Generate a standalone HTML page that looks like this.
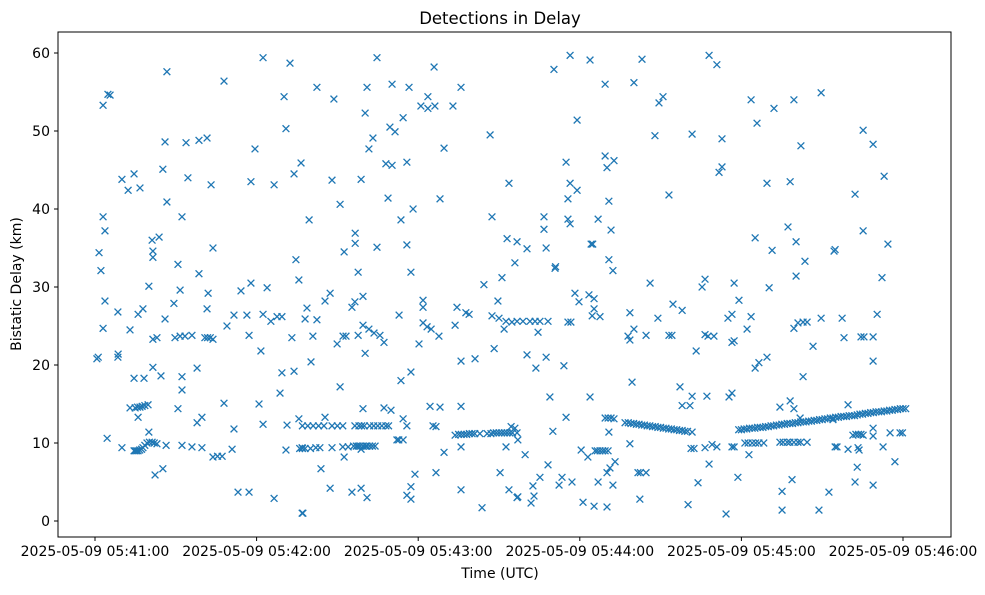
<!DOCTYPE html>
<html><head><meta charset="utf-8"><style>
body{margin:0;background:#fff;}
svg text{font-family:"DejaVu Sans","Liberation Sans",sans-serif;fill:#000;}
</style></head><body>
<svg id="chart" width="985" height="590" xmlns="http://www.w3.org/2000/svg">
<rect width="985" height="590" fill="#fff"/>
<text x="500" y="24" font-size="16.5" text-anchor="middle">Detections in Delay</text>
<text x="500" y="578" font-size="14" text-anchor="middle">Time (UTC)</text>
<text transform="translate(21,284) rotate(-90)" font-size="14" text-anchor="middle">Bistatic Delay (km)</text>
<g id="ticks"></g>
<g id="marks"></g>
<rect x="58" y="32" width="893" height="505" fill="none" stroke="#000" stroke-width="1"/>
</svg>
<script>
const xTickSeconds = [0, 60, 120, 180, 240, 300];
const xTickLabels = ["2025-05-09 05:41:00","2025-05-09 05:42:00","2025-05-09 05:43:00","2025-05-09 05:44:00","2025-05-09 05:45:00","2025-05-09 05:46:00"];
const yTickValues = [0, 10, 20, 30, 40, 50, 60];
// [seconds after 05:41:00, bistatic delay km]
const detections = [
[62.4,59.4],[72.4,58.7],[26.7,57.6],[47.9,56.4],[4.8,54.7],[5.6,54.6],[3,53.3],[70.2,54.4],[70.9,50.3],[26,48.6],[33.8,48.5],[38.6,48.8],[41.6,49.1],[59.4,47.7],[76.5,45.9],[73.9,44.5],
[10,43.8],[14.5,44.5],[12.3,42.4],[16.7,42.7],[25.2,45.1],[34.5,44],[43.1,43.1],[57.9,43.5],[66.5,43.1],[26.7,40.9],[3,39],[3.7,37.2],[32.3,39],[21.2,36],[23.8,36.4],[21.5,34.6],[21.5,33.8],
[43.8,35],[1.5,34.4],[2.2,32.1],[30.8,32.9],[38.6,31.7],[74.6,33.5],[20,30.1],[31.6,29.6],[42,29.2],[54.2,29.5],[57.9,30.5],[63.9,29.9],[75.7,30.9],[3.7,28.2],[29.3,27.9],[8.5,26.8],[16,26.5],
[17.8,27.2],[26,25.9],[41.6,27.2],[3,24.7],[13,24.5],[49,25],[51.6,26.4],[56.4,26.4],[62.4,26.5],[65.3,25.6],[67.6,26.2],[69.4,26.2],[21.5,23.3],[23,23.5],[29.7,23.5],[31.6,23.7],[33.4,23.7],[36,23.8],
[40.8,23.5],[41.8,23.5],[42.8,23.5],[43.8,23.3],[57.2,23.8],[73.1,23.5],[0.7,20.8],[1.2,21],[8.5,21],[8.6,21.4],[61.6,21.8],[21.5,19.7],[24.5,18.6],[14.5,18.3],[18.2,18.3],[32.3,18.5],[37.9,19.6],[32.3,16.8],
[69.4,19],[73.9,19.2],[68.7,16.4],[13,14.5],[14.9,14.5],[15.8,14.6],[16.7,14.6],[17.5,14.7],[18.5,14.8],[19.7,14.9],[16,13.3],[30.8,14.4],[47.9,15.1],[60.9,15],[37.9,12.6],[39.7,13.3],[51.6,11.8],[62.4,12.4],
[71.3,12.3],[75.7,13.1],[20,11.4],[4.5,10.6],[10,9.4],[14.5,9],[14.9,9],[15.5,9],[16,9],[16.6,9.1],[17.3,9.2],[17.8,9.4],[18.5,9.7],[19.3,10],[20.2,10.1],[21.2,10.1],[22,10],[23,9.9],[26.4,9.7],[32.3,9.7],[36,9.5],
[39.7,9.4],[43.8,8.2],[45.5,8.3],[47.2,8.3],[50.9,9.2],[70.9,9.1],[76.9,9.4],[22.3,5.9],[25.2,6.7],[53.1,3.7],[57.2,3.7],[66.5,2.9],[76.9,1],
[104.7,59.4],[125.9,58.2],[82.4,55.6],[101,55.6],[110.3,56],[116.6,55.6],[135.9,55.6],[88.7,54.1],[123.6,54.4],[121,53.2],[123.6,52.9],[126.2,53.2],[132.9,53.2],[100.3,52.3],[114.4,51.7],[109.5,50.5],
[111.4,49.9],[103.2,49.1],[101.7,47.7],[129.6,47.8],[146.7,49.5],[108,45.8],[110.3,45.6],[115.8,46],[88,43.7],[98.8,43.8],[153.7,43.3],[91,40.6],[108.8,41.4],[128.1,41.3],[118.1,40],[79.5,38.6],[113.6,38.6],
[147.4,39],[96.6,36.9],[96.6,35.6],[92.5,34.5],[104.7,35.1],[115.8,35.4],[153,36.2],[156.7,35.8],[155.9,33.1],[97.7,31.9],[117.3,31.9],[144.4,30.3],[151.1,31.2],[87.3,29.2],[85.4,28.2],[99.5,28.8],[96.5,28.1],
[95.4,27.4],[121.8,28.3],[121.8,27.4],[134.4,27.4],[149.6,28.2],[78.7,27.3],[78,25.9],[82.4,25.8],[112.9,26.4],[137.7,26.7],[138.9,26.5],[99.5,25.1],[101.7,24.6],[121.8,25.4],[123.3,24.9],[124.8,24.6],
[133.7,25.1],[147.4,26.3],[150,26],[152.6,25.6],[154.8,25.5],[151.9,24.6],[80.9,23.7],[92.1,23.7],[93.2,23.7],[97.7,23.8],[103.6,24.1],[105.8,23.8],[107.3,22.9],[89.9,22.7],[120.3,22.7],[127.7,23.7],[100.3,21.5],
[80.2,20.4],[135.9,20.5],[141.1,20.8],[148.2,22.1],[91,17.2],[113.6,18],[117.3,19.1],
[77,12.2],[79,12.2],[81,12.2],[83,12.2],[85,12.2],[88,12.2],[90,12.2],[92,12.2],[96.5,12.2],[98,12.2],[99,12.2],[100,12.2],[102,12.2],[103.5,12.2],[105,12.2],[106.5,12.2],[108,12.2],[109,12.2],
[85.4,13.3],[99.5,14.4],[107.3,14.5],[109.9,14.2],[114.4,13.1],[115.8,12.2],[124.4,14.7],[128.1,14.6],[135.9,14.7],[125.5,12.2],[126.6,12.1],[154.5,12.1],
[76,9.3],[77,9.3],[78,9.3],[80,9.3],[82,9.4],[83.5,9.4],[88,9.4],[92,9.5],[94,9.5],[96,9.6],[97,9.6],[97.7,9.6],[98.5,9.6],[99.5,9.6],[100.5,9.6],[101,9.6],[102,9.6],[103,9.6],[104,9.6],
[112.1,10.4],[112.8,10.4],[114.4,10.4],[92.5,8.2],[98.8,9.2],
[133.7,11],[135,11.1],[136,11.1],[137,11.1],[138,11.1],[139,11.2],[140,11.2],[141,11.2],[142.9,11.2],[145.6,11.2],[147,11.2],[148,11.3],[149,11.3],[150,11.3],[151,11.3],[152,11.3],[153,11.3],[154,11.3],[155,11.3],[156.7,11.3],
[135.9,9.5],[152.6,9.5],[129.6,8.8],[150.4,6.2],[83.9,6.7],[118.8,6],[126.6,6.2],[87.3,4.2],[95.4,3.7],[98.8,4.2],[101,3],[117.3,4.4],[115.8,3.3],[117.3,2.8],[135.9,4],[153.7,4],[156.7,3],[143.7,1.7],[77.2,1],
[176.4,59.7],[183.8,59.1],[170.4,57.9],[203.1,59.2],[228,59.7],[230.9,58.5],[189.4,56],[200.1,56.2],[210.9,54.4],[209.4,53.6],[179,51.4],[207.9,49.4],[221.7,49.6],[232.8,49],[174.9,46],[189.4,46.8],[192.7,46.2],
[190.1,45.3],[232.8,45.4],[231.7,44.7],[176.4,43.3],[179,42.4],[175.6,41.3],[190.8,41],[213.1,41.8],[166.7,39],[166.7,37.4],[175.6,38.7],[176.4,38.1],[186.8,38.7],[191.6,37.3],[160.4,34.9],[167.5,35],[184.2,35.5],
[184.8,35.5],[170.8,32.4],[171,32.6],[190.8,33.5],[192.3,32.1],[206.1,30.5],[225.4,30],[226.5,31],[178.2,29.2],[179.7,28.1],[183.4,29],[185.3,28.5],[214.6,27.8],[218,27],[185.3,27.2],[184.6,26.3],[187.5,26.2],[198.6,26.7],
[209,26],[235,26],[236.5,26.5],[156.7,25.6],[158.9,25.6],[161.5,25.6],[163.4,25.6],[165.2,25.6],[168.2,25.6],[175.6,25.5],[176.7,25.5],[164.5,24.2],[197.9,23.7],[200.1,24.6],[198.6,23.2],[204.6,23.8],[213.1,23.8],
[214.2,23.8],[226.5,23.9],[227.6,23.7],[229.8,23.7],[223.2,21.8],[236.5,22.9],[160.4,21.3],[167.5,21],[163.7,19.6],[174.1,19.9],[199.4,17.8],[217.2,17.2],[221.7,16],[227.2,16],[235.4,15.9],[236.5,16.4],[218,14.8],
[220.9,14.8],[168.9,15.9],[183.8,15.9],[174.9,13.3],[189.4,13.2],[190.5,13.2],[191.6,13.2],[192.7,13.1],
[196.8,12.6],[198,12.6],[199,12.5],[200,12.5],[201,12.4],[202,12.4],[203,12.3],[204,12.3],[205,12.2],[206,12.2],[207,12.1],[208,12.1],[209,12],[210,12],[211,11.9],[212,11.9],[213,11.8],[214,11.8],[215,11.7],[216,11.7],
[217,11.6],[218,11.6],[219,11.5],[220,11.5],[221.7,11.4],
[155.9,11.9],[157,10.4],[170,11.5],[190.8,11.4],[198.6,9.9],[185.7,9],[186.5,9],[187.5,9],[188.5,9],[189.4,9],[190.5,9],[180.5,9.1],[183,8.2],[159.7,8.5],[168.2,7.2],[221.3,9.3],[222.4,9.3],[226.5,9.4],[229.1,9.8],
[230.9,9.5],[236.5,9.5],[228,7.3],[201.6,6.2],[202.5,6.2],[204.6,6.2],[193.1,7.6],[191.2,6.8],[190.1,6.2],[165.2,5.6],[162.6,4.5],[163,3.2],[161.9,2.3],[157,3.1],[173.4,5.6],[172.3,4.6],[177.1,5],[186.8,5],[192.3,4.6],
[181.2,2.4],[185.3,1.9],[190.1,1.8],[202.3,2.8],[223.9,4.9],[220.2,2.1],[234.3,0.9],
[243.6,54],[252.1,52.9],[259.5,54],[269.6,54.9],[245.8,51],[262.1,48.1],[285.2,50.1],[288.9,48.3],[293,44.2],[249.5,43.3],[258.1,43.5],[282.2,41.9],[257.3,37.7],[285.2,37.2],[294.4,35.5],[245.1,36.3],[251.4,34.7],
[260.3,35.8],[274.4,34.6],[274.8,34.8],[263.6,33.3],[260.3,31.4],[292.2,31.2],[250.3,29.9],[237.3,30.5],[239.1,28.3],[243.6,26.2],[242.1,24.6],[237.3,23.1],[259.5,24.7],[261,25.4],[262.9,25.5],[264.4,25.5],[269.6,26],
[277.4,26],[290.4,26.5],[266.6,22.4],[278.1,23.5],[284.4,23.6],[285.5,23.6],[288.9,23.6],[288.9,20.5],[245.1,19.6],[246.5,20.3],[249.5,21],[262.9,18.5],[254.3,14.6],[258.1,15.4],[259.5,14.4],[279.6,14.9],[261.8,13.2],
[239,11.7],[240,11.7],[241,11.8],[242,11.8],[243,11.9],[244,11.9],[245,11.9],[246,12],[247,12],[248,12],[249,12.1],[250,12.1],[251,12.2],[252,12.2],[253,12.3],[254,12.3],[255,12.4],[256,12.4],[257,12.5],[258,12.5],
[259,12.5],[260,12.6],[261,12.6],[262,12.7],[263,12.7],[264,12.7],[265,12.8],[266,12.8],[267,12.9],[268,12.9],[269,13],[270,13],[271,13.1],[272,13.1],[273,13.2],[274,13.2],[275,13.3],[276,13.3],[277,13.4],[278,13.4],
[279,13.4],[280,13.5],[281,13.5],[282,13.5],[283,13.6],[284,13.7],[285,13.7],[286,13.8],[287,13.8],[288,13.9],[289,13.9],[290,14],[291,14],[292,14],[293,14.1],[294,14.1],[295,14.2],[296,14.2],[297,14.3],[298,14.3],[299,14.4],[300,14.4],[301,14.4],
[241.3,10],[242.5,10],[244,10],[245.3,10],[246.5,10],[248.3,10],[254.3,10.1],[255.5,10.1],[257,10.1],[258,10.1],[259.5,10.1],[261,10.1],[262,10.1],[264.4,10.1],
[242.8,8.5],[237.3,9.5],[274.8,9.5],[275.5,9.5],[279.6,9.2],[283.3,9.4],[283.7,9.1],[281.4,11],[282.5,11.1],[283.5,11.1],[284.4,11.1],[285.2,11],[288.9,11.9],[288.9,10.9],[295.2,11.3],[298.9,11.3],[299.8,11.3],[292.6,9.5],
[274,13],[283,6.9],[297,7.6],[238.7,5.6],[258.8,5.3],[255.1,3.8],[282.2,5],[288.9,4.6],[272.5,3.7],[255.1,1.4],[268.8,1.4]
];
const NS='http://www.w3.org/2000/svg';
const PL=58, PR=951, PT=32, PB=537;
function xScale(s){return 95 + s*(903-95)/300;}
function yScale(k){return 521 - k*(521-53)/60;}
const ticks=document.getElementById('ticks');
xTickSeconds.forEach((s,i)=>{
  const x=xScale(s);
  const l=document.createElementNS(NS,'line');
  l.setAttribute('x1',x);l.setAttribute('x2',x);l.setAttribute('y1',PB);l.setAttribute('y2',PB+4);l.setAttribute('stroke','#000');
  
  
  ticks.appendChild(l);
  const t=document.createElementNS(NS,'text');
  t.setAttribute('x',x);t.setAttribute('y',PB+19);t.setAttribute('font-size','14');t.setAttribute('text-anchor','middle');
  t.textContent=xTickLabels[i];
  
  
  ticks.appendChild(t);
});
yTickValues.forEach(v=>{
  const y=yScale(v);
  const l=document.createElementNS(NS,'line');
  l.setAttribute('x1',PL-4);l.setAttribute('x2',PL);l.setAttribute('y1',y);l.setAttribute('y2',y);l.setAttribute('stroke','#000');
  
  
  ticks.appendChild(l);
  const t=document.createElementNS(NS,'text');
  t.setAttribute('x',PL-8);t.setAttribute('y',y+5);t.setAttribute('font-size','14');t.setAttribute('text-anchor','end');
  t.textContent=String(v);
  
  
  ticks.appendChild(t);
});
const marks=document.getElementById('marks');
const r=3.4;
detections.forEach(d=>{
  const x=xScale(d[0]), y=yScale(d[1]);
  const p=document.createElementNS(NS,'path');
  p.setAttribute('d',`M${x-r},${y-r}L${x+r},${y+r}M${x-r},${y+r}L${x+r},${y-r}`);
  p.setAttribute('stroke','#1f77b4');p.setAttribute('stroke-width','1.3');p.setAttribute('fill','none');
  
  
  marks.appendChild(p);
});
</script>
</body></html>
